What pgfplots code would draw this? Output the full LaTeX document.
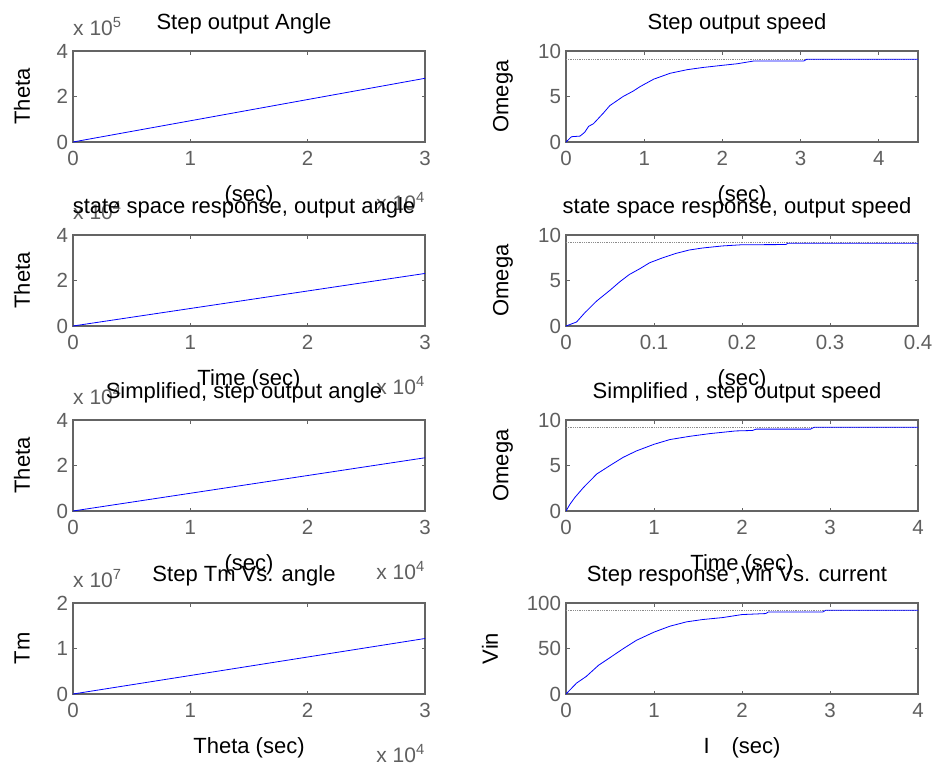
\documentclass[border=0pt]{standalone}
\usepackage{fontspec}
\setmainfont{Liberation Sans}
\usepackage{pgfplots}
\pgfplotsset{compat=1.18}
\definecolor{fr}{RGB}{100,100,100}
\definecolor{tl}{RGB}{95,95,95}
\definecolor{ml}{RGB}{0,0,255}
\definecolor{ss}{RGB}{140,140,140}

\pgfplotsset{
 mlax/.style={scale only axis, width=352pt, height=91pt, anchor=north west,
  axis line style={draw=fr, line width=1.5pt},
  tick style={draw=fr, line width=1pt},
  major tick length=3.5pt, tick align=inside, tick pos=both,
  tick label style={font=\fontsize{20.5}{20.5}\selectfont, text=tl},
  xticklabel style={yshift=-6pt},
  yticklabel style={xshift=-1.5pt},
  /pgf/number format/assume math mode=true,
  title style={font=\fontsize{22}{22}\selectfont, at={(axis description cs:0.5,1)}, anchor=center, yshift=21pt, xshift=-5pt},
  xlabel style={font=\fontsize{22}{22}\selectfont, at={(axis description cs:0.5,0)}, anchor=center, yshift=-54pt},
  ylabel style={font=\fontsize{22}{22}\selectfont, anchor=center},
  clip mode=individual, scaled ticks=false,
 },
 lcol/.style={mlax, xmin=0, xmax=30000, xtick={0,10000,20000,30000}, xticklabels={0,1,2,3},
  ylabel style={at={(axis description cs:-0.145,0.5)}}},
 rcol/.style={mlax, ymin=0, ymax=10, ytick={0,5,10}},
 bl/.style={color=ml, line width=0.8pt, no markers},
 sl/.style={color=ss, densely dotted, line width=0.8pt, no markers},
}
\newcommand{\yexp}[1]{\node[anchor=base west, yshift=16pt, inner sep=0pt, text=tl, font=\fontsize{21}{21}\selectfont] at (rel axis cs:0,1) {x 10\textsuperscript{#1}};}
\newcommand{\xexp}[1]{\node[anchor=base east, yshift=-68pt, inner sep=0pt, text=tl, font=\fontsize{21}{21}\selectfont] at (rel axis cs:1,0) {x 10\textsuperscript{#1}};}

\begin{document}
\begin{tikzpicture}
\useasboundingbox (0,0) rectangle (935pt,-766pt);

% ---------- Row 1 ----------
\begin{axis}[lcol, at={(73pt,-51pt)}, ymin=0, ymax=400000, ytick={0,200000,400000}, yticklabels={0,2,4},
  title={Step output Angle}, xlabel={(sec)}, ylabel={Theta}]
\addplot[bl] coordinates {(0,0) (5000,46700) (10000,93300) (15000,140000) (20000,186700) (25000,233300) (30000,280000)};
\yexp{5}
\xexp{4}
\end{axis}

\begin{axis}[rcol, at={(566pt,-51pt)}, xmin=0, xmax=4.5, xtick={0,1,2,3,4},
  title={Step output speed}, xlabel={(sec)}, ylabel={Omega},
  ylabel style={at={(axis description cs:-0.179,0.5)}}]
\addplot[sl] coordinates {(0,9.1) (4.5,9.1)};
\addplot[bl] coordinates {(0,0) (0.07,0.58) (0.18,0.65) (0.24,1.08) (0.29,1.73) (0.35,2.0) (0.48,3.2) (0.56,4.0) (0.73,5.0) (0.86,5.6) (0.95,6.1) (1.12,6.9) (1.33,7.55) (1.55,7.95) (1.76,8.2) (1.97,8.4) (2.19,8.6) (2.4,8.9) (3.04,8.9) (3.08,9.1) (4.5,9.1)};
\end{axis}

% ---------- Row 2 ----------
\begin{axis}[lcol, at={(73pt,-235pt)}, ymin=0, ymax=40000, ytick={0,20000,40000}, yticklabels={0,2,4},
  title={state space response, output angle}, xlabel={Time (sec)}, ylabel={Theta}]
\addplot[bl] coordinates {(0,0) (5000,3850) (10000,7700) (15000,11550) (20000,15400) (25000,19250) (30000,23100)};
\yexp{4}
\xexp{4}
\end{axis}

\begin{axis}[rcol, at={(566pt,-235pt)}, xmin=0, xmax=0.4, xtick={0,0.1,0.2,0.3,0.4},
  title={state space response, output speed}, xlabel={(sec)}, ylabel={Omega},
  ylabel style={at={(axis description cs:-0.179,0.5)}}]
\addplot[sl] coordinates {(0,9.15) (0.4,9.15)};
\addplot[bl] coordinates {(0,0) (0.012,0.44) (0.0215,1.47) (0.035,2.76) (0.05,3.93) (0.061,4.85) (0.072,5.66) (0.084,6.3) (0.095,6.95) (0.11,7.5) (0.125,7.98) (0.14,8.35) (0.155,8.57) (0.178,8.8) (0.2,8.93) (0.25,8.95) (0.252,9.1) (0.4,9.1)};
\end{axis}

% ---------- Row 3 ----------
\begin{axis}[lcol, at={(73pt,-420pt)}, ymin=0, ymax=40000, ytick={0,20000,40000}, yticklabels={0,2,4},
  title={Simplified, step output angle}, xlabel={(sec)}, ylabel={Theta}]
\addplot[bl] coordinates {(0,0) (5000,3900) (10000,7800) (15000,11700) (20000,15600) (25000,19500) (30000,23400)};
\yexp{4}
\xexp{4}
\end{axis}

\begin{axis}[rcol, at={(566pt,-420pt)}, xmin=0, xmax=4, xtick={0,1,2,3,4},
  title={Simplified , step output speed}, xlabel={Time (sec)}, ylabel={Omega},
  ylabel style={at={(axis description cs:-0.179,0.5)}}]
\addplot[sl] coordinates {(0,9.2) (4,9.2)};
\addplot[bl] coordinates {(0,0) (0.045,0.74) (0.1,1.48) (0.2,2.6) (0.35,4.07) (0.5,5.0) (0.65,5.9) (0.8,6.6) (1.0,7.33) (1.18,7.85) (1.4,8.2) (1.63,8.5) (1.93,8.8) (2.12,8.85) (2.16,9.0) (2.78,9.0) (2.82,9.2) (4,9.2)};
\end{axis}

% ---------- Row 4 ----------
\begin{axis}[lcol, at={(73pt,-603pt)}, ymin=0, ymax=20000000, ytick={0,10000000,20000000}, yticklabels={0,1,2},
  title={Step Tm Vs. angle}, xlabel={Theta (sec)}, ylabel={Tm}]
\addplot[bl] coordinates {(0,0) (5000,2033000) (10000,4067000) (15000,6100000) (20000,8133000) (25000,10167000) (30000,12200000)};
\yexp{7}
\xexp{4}
\end{axis}

\begin{axis}[mlax, at={(566pt,-603pt)}, xmin=0, xmax=4, xtick={0,1,2,3,4}, ymin=0, ymax=100, ytick={0,50,100},
  title={Step response ,Vin Vs. current}, xlabel={I\quad(sec)}, ylabel={Vin},
  ylabel style={at={(axis description cs:-0.216,0.5)}}]
\addplot[sl] coordinates {(0,92) (4,92)};
\addplot[bl] coordinates {(0,0) (0.12,12) (0.23,19.3) (0.37,31.6) (0.5,40) (0.65,49.8) (0.8,59) (1.0,68) (1.18,74.5) (1.37,79.3) (1.55,81.8) (1.78,84) (2.0,87.3) (2.27,88.4) (2.3,90.2) (2.92,90.2) (2.95,92) (4,92)};
\end{axis}
\end{tikzpicture}
\end{document}
